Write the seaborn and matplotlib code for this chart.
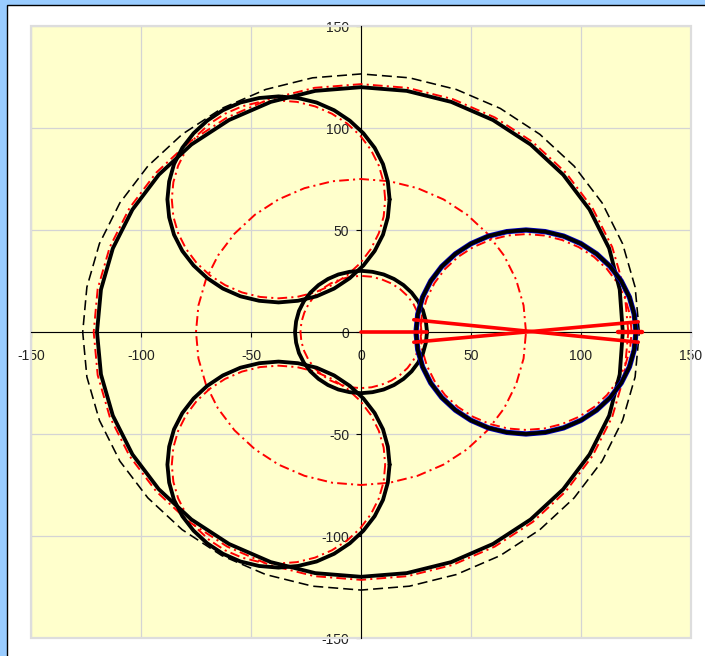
import matplotlib
matplotlib.use("Agg")
import matplotlib.pyplot as plt
from matplotlib.patches import Rectangle
import seaborn as sns

sns.set_theme(style="white")
plt.rcParams["font.family"] = ["Liberation Sans", "DejaVu Sans"]
plt.rcParams["lines.scale_dashes"] = False

tick_values = [-150, -100, -50, 0, 50, 100, 150]

housing_x = [126.5,124.6,118.9,109.6,96.9,81.3,63.3,43.3,22,0,-22,-43.3,-63.3,-81.3,-96.9,-109.6,-118.9,-124.6,-126.5,-124.6,-118.9,-109.6,-96.9,-81.3,-63.3,-43.3,-22,0,22,43.3,63.3,81.3,96.9,109.6,118.9,124.6,126.5]
housing_y = [0,22,43.3,63.3,81.3,96.9,109.6,118.9,124.6,126.5,124.6,118.9,109.6,96.9,81.3,63.3,43.3,22,0,-22,-43.3,-63.3,-81.3,-96.9,-109.6,-118.9,-124.6,-126.5,-124.6,-118.9,-109.6,-96.9,-81.3,-63.3,-43.3,-22,0]

orbit_x = [75,73.9,70.5,65,57.5,48.2,37.5,25.7,13,0,-13,-25.7,-37.5,-48.2,-57.5,-65,-70.5,-73.9,-75,-73.9,-70.5,-65,-57.5,-48.2,-37.5,-25.7,-13,0,13,25.7,37.5,48.2,57.5,65,70.5,73.9,75]
orbit_y = [0,13,25.7,37.5,48.2,57.5,65,70.5,73.9,75,73.9,70.5,65,57.5,48.2,37.5,25.7,13,0,-13,-25.7,-37.5,-48.2,-57.5,-65,-70.5,-73.9,-75,-73.9,-70.5,-65,-57.5,-48.2,-37.5,-25.7,-13,0]

red_outer_x = [121.5,119.7,114.2,105.2,93.1,78.1,60.8,41.6,21.1,0,-21.1,-41.6,-60.8,-78.1,-93.1,-105.2,-114.2,-119.7,-121.5,-119.7,-114.2,-105.2,-93.1,-78.1,-60.8,-41.6,-21.1,0,21.1,41.6,60.8,78.1,93.1,105.2,114.2,119.7,121.5]
red_outer_y = [0,21.1,41.6,60.8,78.1,93.1,105.2,114.2,119.7,121.5,119.7,114.2,105.2,93.1,78.1,60.8,41.6,21.1,0,-21.1,-41.6,-60.8,-78.1,-93.1,-105.2,-114.2,-119.7,-121.5,-119.7,-114.2,-105.2,-93.1,-78.1,-60.8,-41.6,-21.1,0]

black_outer_x = [119,117.6,112.8,103.9,91.9,77.1,60,41,20.8,0,-20.8,-41,-60,-77.1,-91.9,-103.9,-112.8,-118.2,-120,-118.2,-112.8,-103.9,-91.9,-77.1,-60,-41,-20.8,0,20.8,41,60,77.1,91.9,103.9,112.8,117.6,119]
black_outer_y = [0,20.8,41,60,77.1,91.9,103.9,112.8,118.2,120,118.2,112.8,103.9,91.9,77.1,60,41,20.8,0,-20.8,-41,-60,-77.1,-91.9,-103.9,-112.8,-118.2,-120,-118.2,-112.8,-103.9,-91.9,-77.1,-60,-41,-20.8,0]

black_inner_x = [30,29.5,28.2,26,23,19.3,15,10.3,5.2,0,-5.2,-10.3,-15,-19.3,-23,-26,-28.2,-29.5,-30,-29.5,-28.2,-26,-23,-19.3,-15,-10.3,-5.2,0,5.2,10.3,15,19.3,23,26,28.2,29.5,30]
black_inner_y = [0,5.2,10.3,15,19.3,23,26,28.2,29.5,30,29.5,28.2,26,23,19.3,15,10.3,5.2,0,-5.2,-10.3,-15,-19.3,-23,-26,-28.2,-29.5,-30,-29.5,-28.2,-26,-23,-19.3,-15,-10.3,-5.2,0]

red_inner_x = [27.5,27.1,25.8,23.8,21.1,17.7,13.8,9.4,4.8,0,-4.8,-9.4,-13.8,-17.7,-21.1,-23.8,-25.8,-27.1,-27.5,-27.1,-25.8,-23.8,-21.1,-17.7,-13.8,-9.4,-4.8,0,4.8,9.4,13.8,17.7,21.1,23.8,25.8,27.1,27.5]
red_inner_y = [0,4.8,9.4,13.8,17.7,21.1,23.8,25.8,27.1,27.5,27.1,25.8,23.8,21.1,17.7,13.8,9.4,4.8,0,-4.8,-9.4,-13.8,-17.7,-21.1,-23.8,-25.8,-27.1,-27.5,-27.1,-25.8,-23.8,-21.1,-17.7,-13.8,-9.4,-4.8,0]

lobe_x = [13,12.2,10,6.2,1.1,-5.1,-12.2,-20.2,-28.7,-37.5,-46.3,-54.8,-62.8,-69.9,-76.1,-81.2,-85,-87.2,-88,-87.2,-85,-81.2,-76.1,-69.9,-62.8,-54.8,-46.3,-37.5,-28.7,-20.2,-12.2,-5.1,1.1,6.2,10,12.2,13]
lobe_top_y = [65,73.8,82.3,90.3,97.4,103.6,108.7,112.5,114.7,115.5,114.7,112.5,108.7,103.6,97.4,90.3,82.3,73.8,65,56.2,47.7,39.7,32.6,26.4,21.3,17.5,15.3,14.5,15.3,17.5,21.3,26.4,32.6,39.7,47.7,56.2,65]
lobe_bottom_y = [-65,-73.8,-82.3,-90.3,-97.4,-103.6,-108.7,-112.5,-114.7,-115.5,-114.7,-112.5,-108.7,-103.6,-97.4,-90.3,-82.3,-73.8,-65,-56.2,-47.7,-39.7,-32.6,-26.4,-21.3,-17.5,-15.3,-14.5,-15.3,-17.5,-21.3,-26.4,-32.6,-39.7,-47.7,-56.2,-65]

red_lobe_x = [11,10.3,8.1,4.5,-0.3,-6.3,-13.2,-20.9,-29.1,-37.5,-45.9,-54.1,-61.8,-68.7,-74.7,-79.5,-83.1,-85.3,-86,-85.3,-83.1,-79.5,-74.7,-68.7,-61.8,-54.1,-45.9,-37.5,-29.1,-20.9,-13.2,-6.3,-0.3,4.5,8.1,10.3,11]
red_lobe_top_y = [65,73.4,81.6,89.3,96.2,102.2,107,110.6,112.8,113.5,112.8,110.6,107,102.2,96.2,89.3,81.6,73.4,65,56.6,48.4,40.7,33.8,27.8,23,19.4,17.2,16.5,17.2,19.4,23,27.8,33.8,40.7,48.4,56.6,65]
red_lobe_bottom_y = [-65,-73.4,-81.6,-89.3,-96.2,-102.2,-107,-110.6,-112.8,-113.5,-112.8,-110.6,-107,-102.2,-96.2,-89.3,-81.6,-73.4,-65,-56.6,-48.4,-40.7,-33.8,-27.8,-23,-19.4,-17.2,-16.5,-17.2,-19.4,-23,-27.8,-33.8,-40.7,-48.4,-56.6,-65]

right_x = [125,124.2,122,118.3,113.3,107.1,100,92.1,83.7,75,66.3,57.9,50,42.9,36.7,31.7,28,25.8,25,25.8,28,31.7,36.7,42.9,50,57.9,66.3,75,83.7,92.1,100,107.1,113.3,118.3,122,124.2,125]
right_y = [0,8.7,17.1,25,32.1,38.3,43.3,47,49.2,50,49.2,47,43.3,38.3,32.1,25,17.1,8.7,0,-8.7,-17.1,-25,-32.1,-38.3,-43.3,-47,-49.2,-50,-49.2,-47,-43.3,-38.3,-32.1,-25,-17.1,-8.7,0]

red_right_x = [123,122.3,120.1,116.6,111.8,105.9,99,91.4,83.3,75,66.7,58.6,51,44.1,38.2,33.4,29.9,27.7,27,27.7,29.9,33.4,38.2,44.1,51,58.6,66.7,75,83.3,91.4,99,105.9,111.8,116.6,120.1,122.3,123]
red_right_y = [0,8.3,16.4,24,30.9,36.8,41.6,45.1,47.3,48,47.3,45.1,41.6,36.8,30.9,24,16.4,8.3,0,-8.3,-16.4,-24,-30.9,-36.8,-41.6,-45.1,-47.3,-48,-47.3,-45.1,-41.6,-36.8,-30.9,-24,-16.4,-8.3,0]

rod_center_x = [0, 30]
rod_center_y = [0, 0]
rod_end_x = [117, 127.5]
rod_end_y = [0, 0]
bar_a_x = [24, 126]
bar_a_y = [6, -5]
bar_b_x = [24, 126]
bar_b_y = [-5, 5]

W, H = 705, 656
fig = plt.figure(figsize=(W / 100, H / 100), dpi=100, facecolor="#99CCFF")
fig.patches.append(Rectangle((6.5 / W, -0.01), 1, 1.01 - 5.5 / H, transform=fig.transFigure,
                             facecolor="white", edgecolor="black", linewidth=1.0, zorder=-1))
ax = fig.add_axes([31 / W, 1 - 638 / H, 660 / W, 612 / H], facecolor="#FFFFCC")

DASH = (0, (7.2, 3.6))
DASHDOT = (0, (7, 3, 1.5, 3))
BLACK_LW = 2.75
RED_LW = 1.4


def draw(x, y, color, lw, ls="-", z=3):
    sns.lineplot(x=x, y=y, sort=False, estimator=None, color=color, linewidth=lw,
                 linestyle=ls, ax=ax, legend=False, zorder=z)


draw(housing_x, housing_y, "black", 1.15, DASH, 3)
draw(orbit_x, orbit_y, "red", RED_LW, DASHDOT, 3)
draw(red_outer_x, red_outer_y, "red", RED_LW, DASHDOT, 3)
draw(red_inner_x, red_inner_y, "red", RED_LW, DASHDOT, 3)
draw(red_lobe_x, red_lobe_top_y, "red", RED_LW, DASHDOT, 3)
draw(red_lobe_x, red_lobe_bottom_y, "red", RED_LW, DASHDOT, 3)
draw(red_right_x, red_right_y, "red", RED_LW, DASHDOT, 3)
draw(black_outer_x, black_outer_y, "black", BLACK_LW, "-", 4)
draw(black_inner_x, black_inner_y, "black", BLACK_LW, "-", 4)
draw(lobe_x, lobe_top_y, "black", BLACK_LW, "-", 4)
draw(lobe_x, lobe_bottom_y, "black", BLACK_LW, "-", 4)
draw(right_x, right_y, "#0000CC", 3.8, "-", 4)
draw(right_x, right_y, "black", 2.7, "-", 4)
draw(rod_center_x, rod_center_y, "red", 2.6, "-", 6)
draw(rod_end_x, rod_end_y, "red", 3.2, "-", 6)
draw(bar_a_x, bar_a_y, "red", 2.6, "-", 6)
draw(bar_b_x, bar_b_y, "red", 2.6, "-", 6)

ax.set_xlim(-150, 150)
ax.set_ylim(-150, 150)
ax.set_xticks(tick_values)
ax.set_yticks(tick_values)
ax.set_xticklabels([str(v) for v in tick_values])
ax.set_yticklabels([str(v) for v in tick_values])
ax.set_xlabel("")
ax.set_ylabel("")
ax.grid(True, color="#D4D4D4", linewidth=0.9, zorder=1)
ax.set_axisbelow(True)
for side in ("top", "right"):
    ax.spines[side].set_visible(False)
for side in ("left", "bottom"):
    ax.spines[side].set_position("zero")
    ax.spines[side].set_color("black")
    ax.spines[side].set_linewidth(0.8)
    ax.spines[side].set_zorder(2.5)
ax.tick_params(axis="x", which="major", direction="out", length=3.5, width=0.8,
               color="black", labelsize=10, labelcolor="#222222", pad=8.7, bottom=True)
ax.tick_params(axis="y", which="major", direction="out", length=3.5, width=0.8,
               color="black", labelsize=10, labelcolor="#222222", pad=5.1, left=True)
ax.add_patch(Rectangle((0, 0), 1, 1, transform=ax.transAxes, fill=False,
                       edgecolor="#DDDDDD", linewidth=1.6, clip_on=False, zorder=2))
fig.savefig("out.png", dpi=100, facecolor=fig.get_facecolor())
